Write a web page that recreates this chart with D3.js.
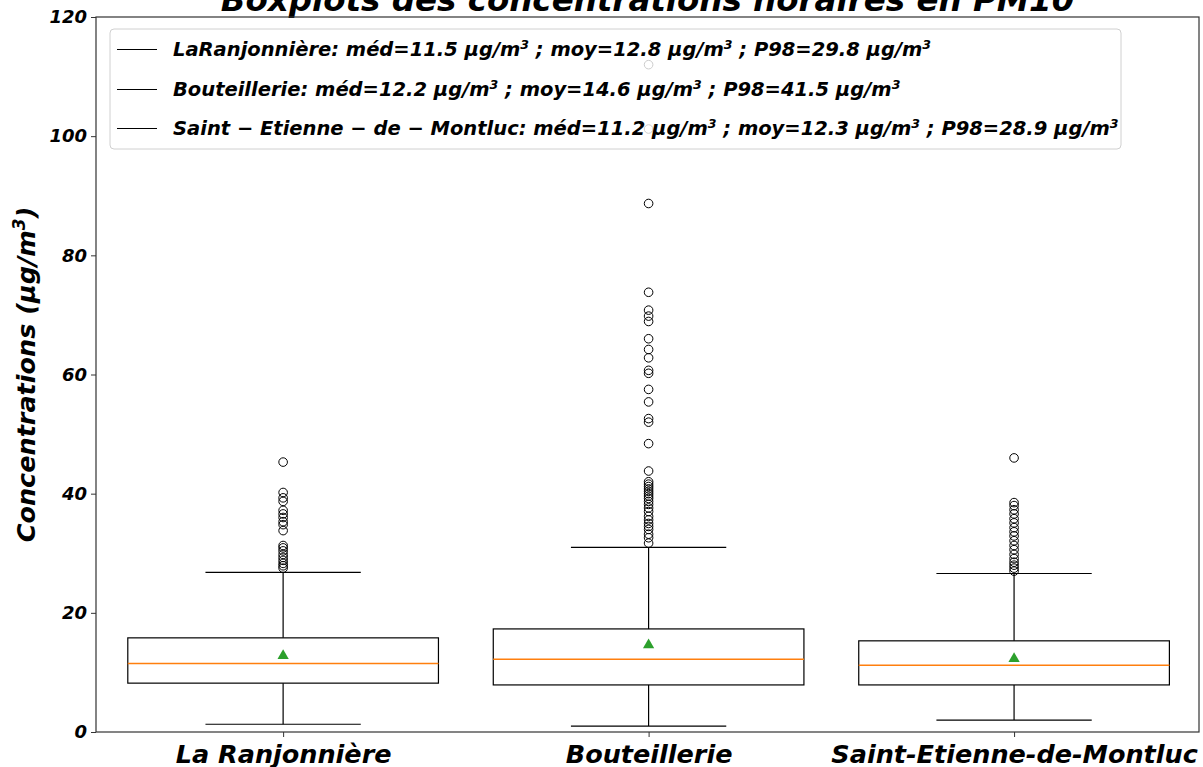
<!DOCTYPE html>
<html>
<head>
<meta charset="utf-8">
<script src="https://cdn.jsdelivr.net/npm/d3@7"></script>
<style>
  body { margin: 0; background: #fff; }
</style>
</head>
<body>
<script>
// Stations (x categories)
const stations = ["La Ranjonnière", "Bouteillerie", "Saint-Etienne-de-Montluc"];
const legendNames = ["LaRanjonnière", "Bouteillerie", "Saint \u2212 Etienne \u2212 de \u2212 Montluc"];

// Box statistics (µg/m3)
const q1 = [8.2, 7.9, 7.9];
const medians = [11.5, 12.2, 11.2];
const q3 = [15.8, 17.3, 15.3];
const means = [12.8, 14.6, 12.3];
const whiskLow = [1.3, 1.0, 2.0];
const whiskHigh = [26.8, 31.0, 26.6];
const p98 = [29.8, 41.5, 28.9];

// Outliers per station
const outliers = [
  [45.3, 40.2, 39.3, 38.7, 37.2, 36.6, 36.0, 35.3, 34.8, 33.8, 31.3, 30.9, 30.4, 29.8, 29.3, 28.8, 28.3, 27.9, 27.5],
  [112.0, 101.2, 88.7, 73.8, 70.8, 69.8, 68.9, 66.0, 64.2, 62.8, 60.7, 60.2, 57.5, 55.4, 52.6, 52.0, 48.4, 43.8, 42.0, 41.6,
   41.2, 40.8, 40.4, 40.0, 39.6, 39.2, 38.7, 38.2, 37.6, 37.0, 36.2, 35.6, 35.0, 34.5, 34.0, 33.2, 32.6, 31.7],
  [46.0, 38.5, 38.0, 37.3, 36.6, 35.8, 35.1, 34.3, 33.6, 32.9, 32.1, 31.3, 30.6, 29.8, 29.1, 28.5, 28.0, 27.5, 27.0]
];

const yTicks = [0, 20, 40, 60, 80, 100, 120];

const width = 1203, height = 767;
const margin = { top: 17, right: 4, bottom: 35, left: 96 };
const font = "'DejaVu Sans', sans-serif";

const svg = d3.select("body").append("svg")
  .attr("width", width)
  .attr("height", height)
  .style("font-family", font);

const x = d3.scaleLinear()
  .domain([0.488, 3.506])
  .range([margin.left, width - margin.right]);

const y = d3.scaleLinear()
  .domain([0, 120])
  .range([height - margin.bottom, margin.top]);

const boxWidth = 0.85;
const capWidth = 0.425;

// Title (clipped at the top edge as in the reference)
svg.append("text")
  .attr("x", (x.range()[0] + x.range()[1]) / 2)
  .attr("y", 11)
  .attr("text-anchor", "middle")
  .attr("font-size", "32.5px")
  .attr("font-weight", "bold")
  .attr("font-style", "italic")
  .text("Boxplots des concentrations horaires en PM10");

// Boxes
const g = svg.append("g");
stations.forEach((s, i) => {
  const cx = x(i + 1);
  const half = x(i + 1 + boxWidth / 2) - cx;
  const capHalf = x(i + 1 + capWidth / 2) - cx;

  // whiskers
  g.append("line")
    .attr("x1", cx).attr("x2", cx)
    .attr("y1", y(q1[i])).attr("y2", y(whiskLow[i]))
    .attr("stroke", "#000").attr("stroke-width", 1.2);
  g.append("line")
    .attr("x1", cx).attr("x2", cx)
    .attr("y1", y(q3[i])).attr("y2", y(whiskHigh[i]))
    .attr("stroke", "#000").attr("stroke-width", 1.2);
  // caps
  [whiskLow[i], whiskHigh[i]].forEach(v => {
    g.append("line")
      .attr("x1", cx - capHalf).attr("x2", cx + capHalf)
      .attr("y1", y(v)).attr("y2", y(v))
      .attr("stroke", "#000").attr("stroke-width", 1.2);
  });
  // box
  g.append("rect")
    .attr("x", cx - half)
    .attr("y", y(q3[i]))
    .attr("width", 2 * half)
    .attr("height", y(q1[i]) - y(q3[i]))
    .attr("fill", "none")
    .attr("stroke", "#000")
    .attr("stroke-width", 1.2);
  // median
  g.append("line")
    .attr("x1", cx - half).attr("x2", cx + half)
    .attr("y1", y(medians[i])).attr("y2", y(medians[i]))
    .attr("stroke", "#ff7f0e").attr("stroke-width", 1.5);
  // mean
  g.append("path")
    .attr("d", d3.symbol(d3.symbolTriangle, 55)())
    .attr("transform", `translate(${cx},${y(means[i])})`)
    .attr("fill", "#2ca02c");
  // outliers
  g.selectAll(null)
    .data(outliers[i])
    .join("circle")
    .attr("cx", cx)
    .attr("cy", d => y(d))
    .attr("r", 4.3)
    .attr("fill", "none")
    .attr("stroke", "#000")
    .attr("stroke-width", 1);
});

// Axes
const yAxis = d3.axisLeft(y).tickValues(yTicks).tickSize(5).tickPadding(4);
const yG = svg.append("g")
  .attr("transform", `translate(${margin.left},0)`)
  .call(yAxis);
yG.select(".domain").remove();
yG.selectAll("text")
  .attr("font-size", "18px")
  .attr("font-weight", "bold")
  .attr("font-style", "italic")
  .attr("font-family", font)
  .attr("fill", "#000");
yG.selectAll("line").attr("stroke", "#333");

const xAxis = d3.axisBottom(x).tickValues([1, 2, 3])
  .tickFormat((d, i) => stations[i]).tickSize(5);
const xG = svg.append("g")
  .attr("transform", `translate(0,${height - margin.bottom})`)
  .call(xAxis);
xG.select(".domain").remove();
xG.selectAll("text")
  .attr("y", 31)
  .attr("dy", 0)
  .attr("font-size", "25.5px")
  .attr("font-weight", "bold")
  .attr("font-style", "italic")
  .attr("font-family", font)
  .attr("fill", "#000");
xG.selectAll("line").attr("stroke", "#333");

// Frame (spines)
svg.append("rect")
  .attr("x", margin.left)
  .attr("y", margin.top)
  .attr("width", width - margin.left - margin.right)
  .attr("height", height - margin.top - margin.bottom)
  .attr("fill", "none")
  .attr("stroke", "#333")
  .attr("stroke-width", 1.2);

// Y label
svg.append("text")
  .attr("transform", `translate(35,${(y.range()[0] + y.range()[1]) / 2}) rotate(-90)`)
  .attr("text-anchor", "middle")
  .attr("font-size", "25.5px")
  .attr("font-weight", "bold")
  .attr("font-style", "italic")
  .call(t => {
    t.append("tspan").text("Concentrations (\u00b5g/m");
    t.append("tspan").attr("baseline-shift", "super").attr("font-size", "17px").text("3");
    t.append("tspan").text(")");
  });

// Legend
const legend = svg.append("g").attr("transform", "translate(110,29)");
legend.append("rect")
  .attr("width", 1011)
  .attr("height", 120)
  .attr("rx", 4)
  .attr("fill", "rgba(255,255,255,0.8)")
  .attr("stroke", "#d0d0d0");

const unit = (t) => {
  t.append("tspan").text(" \u00b5g/m");
  t.append("tspan").attr("baseline-shift", "super").attr("font-size", "12.5px").text("3");
};

legendNames.forEach((name, i) => {
  const ly = Math.round(20 + i * 39.5) + 0.5;
  legend.append("line")
    .attr("x1", 7).attr("x2", 47)
    .attr("y1", ly).attr("y2", ly)
    .attr("stroke", "#000").attr("stroke-width", 1);
  legend.append("text")
    .attr("x", 63)
    .attr("y", ly + 6.5)
    .attr("font-size", "19.5px")
    .attr("font-weight", "bold")
    .attr("font-style", "italic")
    .call(t => {
      t.append("tspan").text(`${name}: méd=${medians[i].toFixed(1)}`);
      unit(t);
      t.append("tspan").text(` ; moy=${means[i].toFixed(1)}`);
      unit(t);
      t.append("tspan").text(` ; P98=${p98[i].toFixed(1)}`);
      unit(t);
    });
});
</script>
</body>
</html>
